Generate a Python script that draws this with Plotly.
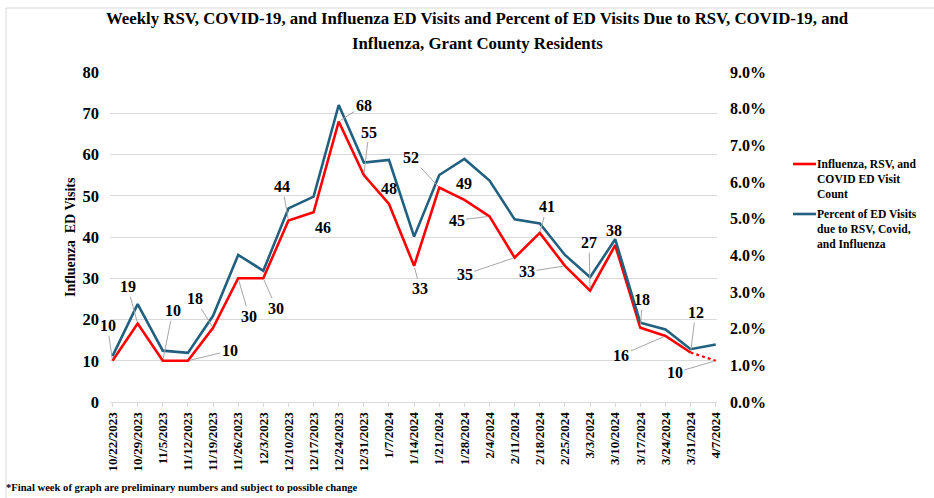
import plotly.graph_objects as go

weeks = ["10/22/2023", "10/29/2023", "11/5/2023", "11/12/2023", "11/19/2023", "11/26/2023",
         "12/3/2023", "12/10/2023", "12/17/2023", "12/24/2023", "12/31/2023", "1/7/2024",
         "1/14/2024", "1/21/2024", "1/28/2024", "2/4/2024", "2/11/2024", "2/18/2024",
         "2/25/2024", "3/3/2024", "3/10/2024", "3/17/2024", "3/24/2024", "3/31/2024", "4/7/2024"]
visit_counts = [10, 19, 10, 10, 18, 30, 30, 44, 46, 68, 55, 48, 33, 52, 49, 45, 35, 41,
                33, 27, 38, 18, 16, 12, 10]
percent_visits = [1.25, 2.67, 1.40, 1.34, 2.35, 4.01, 3.58, 5.28, 5.60, 8.10, 6.53, 6.60,
                  4.51, 6.19, 6.63, 6.04, 4.98, 4.87, 4.01, 3.40, 4.44, 2.16, 1.98, 1.44, 1.57]
left_ticks = [0, 10, 20, 30, 40, 50, 60, 70, 80]
right_ticks = [0, 1, 2, 3, 4, 5, 6, 7, 8, 9]

# label placement (pixel offsets of label from its point, and whether a leader line is drawn)
label_offsets = [(-5, -35, True), (-10, -37, True), (10, -50, True), (42, -10, True),
                 (-18, -29, True), (11, 38, True), (13, 30, True), (-6, -34, True),
                 (9, 15, False), (25, -16, True), (5, -43, True), (0, -16, False),
                 (6, 23, True), (-28, -30, True), (0, -16, False), (-33, 4, True),
                 (-50, 17, True), (7, -26, True), (-38, 6, True), (-1, -48, True),
                 (-1, -15, False), (2, -28, True), (-44, 19, True), (5, -40, True),
                 (-41, 12, True)]

RED = "#FF0000"
BLUE = "#22607F"
SERIF = "Liberation Serif"

L, R, T, B = 110, 217, 72, 96
W, H = 934, 498
PW, PH = W - L - R, H - T - B


def px_x(p):
    return (p - L) / PW


def px_y(p):
    return (H - B - p) / PH


fig = go.Figure()

solid_counts = visit_counts[:-1] + [None]
dotted_counts = [None] * (len(visit_counts) - 2) + visit_counts[-2:]

fig.add_trace(go.Scatter(x=weeks, y=percent_visits, yaxis="y2", mode="lines",
                         line=dict(color=BLUE, width=2.6), showlegend=False,
                         name="Percent of ED Visits due to RSV, Covid, and Influenza"))
fig.add_trace(go.Scatter(x=weeks, y=solid_counts, mode="lines",
                         line=dict(color=RED, width=2.6), showlegend=False,
                         name="Influenza, RSV, and COVID ED Visit Count"))
fig.add_trace(go.Scatter(x=weeks, y=dotted_counts, mode="lines",
                         line=dict(color=RED, width=2.2, dash="dot"), showlegend=False,
                         hoverinfo="skip"))

annotations = []
for wk, v, (ax, ay, leader) in zip(weeks, visit_counts, label_offsets):
    lab_font = dict(family=SERIF, size=16, color="#000000", weight="bold")
    if leader:
        annotations.append(dict(x=wk, y=v, xref="x", yref="y", text=str(v), showarrow=True,
                                ax=ax, ay=ay, arrowhead=0, arrowwidth=1, arrowcolor="#A6A6A6",
                                standoff=2, font=lab_font))
    else:
        annotations.append(dict(x=wk, y=v, xref="x", yref="y", text=str(v), showarrow=False,
                                xshift=ax, yshift=-ay, xanchor="center", yanchor="middle",
                                font=lab_font))

title_font = dict(family=SERIF, size=16.8, color="#000000", weight="bold")
annotations.append(dict(x=px_x(477), y=px_y(18), xref="paper", yref="paper", showarrow=False,
                        xanchor="center", yanchor="middle", font=title_font,
                        text="Weekly RSV, COVID-19, and Influenza ED Visits and Percent of ED Visits Due to RSV, COVID-19, and"))
annotations.append(dict(x=px_x(477), y=px_y(43), xref="paper", yref="paper", showarrow=False,
                        xanchor="center", yanchor="middle", font=title_font,
                        text="Influenza, Grant County Residents"))
annotations.append(dict(x=px_x(70), y=px_y(237), xref="paper", yref="paper", showarrow=False,
                        xanchor="center", yanchor="middle", textangle=-90,
                        font=dict(family=SERIF, size=14, color="#000000", weight="bold"),
                        text="Influenza  ED Visits"))
annotations.append(dict(x=px_x(4), y=px_y(487), xref="paper", yref="paper", showarrow=False,
                        xanchor="left", yanchor="middle",
                        font=dict(family=SERIF, size=10.6, color="#000000", weight="bold"),
                        text="*Final week of graph are preliminary numbers and subject to possible change"))

leg_font = dict(family=SERIF, size=11.6, color="#000000", weight="bold")
annotations.append(dict(x=px_x(815), y=px_y(156), xref="paper", yref="paper", showarrow=False,
                        xanchor="left", yanchor="top", align="left", font=leg_font,
                        text="Influenza, RSV, and<br>COVID ED Visit<br>Count"))
annotations.append(dict(x=px_x(815), y=px_y(206), xref="paper", yref="paper", showarrow=False,
                        xanchor="left", yanchor="top", align="left", font=leg_font,
                        text="Percent of ED Visits<br>due to RSV, Covid,<br>and Influenza"))

shapes = [
    dict(type="line", xref="paper", yref="paper", x0=px_x(793), x1=px_x(816),
         y0=px_y(164), y1=px_y(164), line=dict(color=RED, width=2.6)),
    dict(type="line", xref="paper", yref="paper", x0=px_x(793), x1=px_x(816),
         y0=px_y(214), y1=px_y(214), line=dict(color=BLUE, width=2.6)),
    dict(type="rect", xref="paper", yref="paper", x0=px_x(6), x1=px_x(945),
         y0=px_y(510), y1=px_y(8), line=dict(color="#D9D9D9", width=1), layer="below"),
]

fig.update_layout(
    width=W, height=H,
    margin=dict(l=L, r=R, t=T, b=B, autoexpand=False),
    paper_bgcolor="#FFFFFF", plot_bgcolor="#FFFFFF",
    showlegend=False,
    annotations=annotations,
    shapes=shapes,
    xaxis=dict(type="category", categoryorder="array", categoryarray=weeks,
               range=[-0.1, len(weeks) - 1 + 0.05], tickangle=-90,
               tickfont=dict(family=SERIF, size=13, color="#000000", weight="bold"),
               showgrid=False, showline=True, linecolor="#D9D9D9", linewidth=1,
               ticks="outside", ticklen=4, tickcolor="#D9D9D9", zeroline=False),
    yaxis=dict(range=[0, 80], tickvals=left_ticks, ticktext=[str(t) for t in left_ticks],
               showgrid=True, gridcolor="#D9D9D9", gridwidth=1, zeroline=False,
               tickfont=dict(family=SERIF, size=16.5, color="#000000", weight="bold"),
               ticks="", showline=False, ticklabelstandoff=10),
    yaxis2=dict(range=[0, 9], overlaying="y", side="right", tickvals=right_ticks,
                ticktext=[f"{t:.1f}%" for t in right_ticks], showgrid=False, zeroline=False,
                tickfont=dict(family=SERIF, size=16, color="#000000", weight="bold"),
                ticks="", showline=False, ticklabelstandoff=12),
)

fig.write_html("out.html", config={"displayModeBar": False},
               post_script="document.body.style.margin='0px';")
